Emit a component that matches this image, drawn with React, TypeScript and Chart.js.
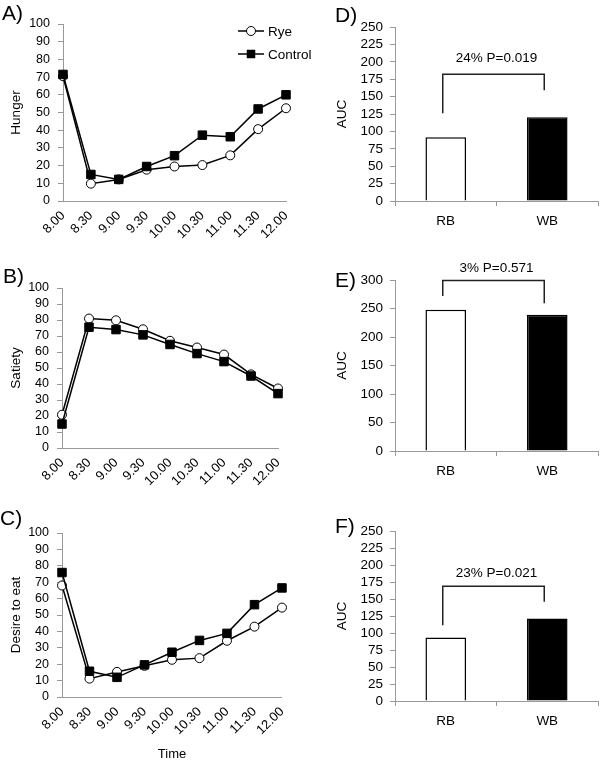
import React, { useEffect, useRef } from 'react';
import { Chart, registerables } from 'chart.js';
Chart.register(...registerables);

const FONT = "'Liberation Sans', Arial, Helvetica, sans-serif";

// ---- data ----
const timeLabels = ['8.00', '8.30', '9.00', '9.30', '10.00', '10.30', '11.00', '11.30', '12.00'];

const hungerRye = [70.5, 9.8, 12.2, 17.7, 19.5, 20.3, 25.8, 40.6, 52.4];
const hungerControl = [71.5, 15, 12.2, 19.5, 25.6, 37.2, 36.3, 52, 60];

const satietyRye = [20.8, 80.9, 79.8, 74.2, 67, 62.8, 58.4, 46, 37.2];
const satietyControl = [15, 75.5, 74, 70.7, 64.7, 59, 54, 45, 34];

const desireRye = [68, 11.2, 15.3, 19, 22.7, 23.7, 34.3, 42.9, 54.5];
const desireControl = [75.9, 15.7, 12, 19.6, 27.3, 34.5, 38.8, 56.3, 66.5];

const groupLabels = ['RB', 'WB'];
const aucHunger = [91.6, 120.2];
const aucSatiety = [248, 239];
const aucDesire = [93.4, 121.3];

// bracket: [left leg end, right leg end, bracket top, text position] in axis units
const bracketHunger = [126, 159, 182, 205];
const bracketSatiety = [272, 259, 299, 321];
const bracketDesire = [111.5, 145.8, 168.8, 188];
const bracketTextHunger = '24% P=0.019';
const bracketTextSatiety = '3% P=0.571';
const bracketTextDesire = '23% P=0.021';

const seriesNames = ['Rye', 'Control'];

// ---- plugins ----
function letterPlugin(text: string, x: number, y: number) {
  return {
    id: 'letter' + text,
    afterDraw(chart: any) {
      const ctx = chart.ctx;
      ctx.save();
      ctx.fillStyle = '#000';
      ctx.font = `21px ${FONT}`;
      ctx.textAlign = 'left';
      ctx.textBaseline = 'alphabetic';
      ctx.fillText(text, x, y);
      ctx.restore();
    },
  };
}

function legendPlugin() {
  return {
    id: 'customLegend',
    afterDraw(chart: any) {
      const ctx = chart.ctx;
      const rows = [
        { name: seriesNames[0], y: 31, ds: 1 },
        { name: seriesNames[1], y: 54, ds: 0 },
      ];
      ctx.save();
      for (const r of rows) {
        const d = chart.data.datasets[r.ds];
        ctx.strokeStyle = '#000';
        ctx.lineWidth = 1.5;
        ctx.beginPath();
        ctx.moveTo(238, r.y);
        ctx.lineTo(264, r.y);
        ctx.stroke();
        ctx.lineWidth = 1;
        ctx.fillStyle = d.pointBackgroundColor;
        ctx.strokeStyle = '#000';
        if (d.pointStyle === 'rect') {
          ctx.fillRect(251 - 4.25, r.y - 4.25, 8.5, 8.5);
        } else {
          ctx.beginPath();
          ctx.arc(251, r.y, 4.5, 0, Math.PI * 2);
          ctx.fill();
          ctx.stroke();
        }
        ctx.fillStyle = '#000';
        ctx.font = `13.5px ${FONT}`;
        ctx.textAlign = 'left';
        ctx.textBaseline = 'middle';
        ctx.fillText(r.name, 268, r.y + 1);
      }
      ctx.restore();
    },
  };
}

function bracketPlugin(b: number[], text: string) {
  return {
    id: 'bracket',
    afterDatasetsDraw(chart: any) {
      const { ctx, scales } = chart;
      const xs = scales.x;
      const ys = scales.y;
      const x0 = xs.getPixelForValue(0) - 3;
      const x1 = xs.getPixelForValue(1) - 3;
      ctx.save();
      ctx.strokeStyle = '#222';
      ctx.lineWidth = 1.5;
      ctx.beginPath();
      ctx.moveTo(x0, ys.getPixelForValue(b[0]));
      ctx.lineTo(x0, ys.getPixelForValue(b[2]));
      ctx.lineTo(x1, ys.getPixelForValue(b[2]));
      ctx.lineTo(x1, ys.getPixelForValue(b[1]));
      ctx.stroke();
      ctx.fillStyle = '#000';
      ctx.font = `13.5px ${FONT}`;
      ctx.textAlign = 'center';
      ctx.textBaseline = 'middle';
      ctx.fillText(text, (x0 + x1) / 2 + 3, ys.getPixelForValue(b[3]));
      ctx.restore();
    },
  };
}

// ---- configs ----
function lineConfig(p: {
  rye: number[];
  control: number[];
  yTitle: string;
  xTitle?: string;
  pad: { left: number; top: number; right: number; bottom: number };
  yWidth: number;
  xHeight: number;
  letter: [string, number, number];
  legend?: boolean;
}) {
  const plugins: any[] = [letterPlugin(p.letter[0], p.letter[1], p.letter[2])];
  if (p.legend) plugins.push(legendPlugin());
  return {
    type: 'line',
    data: {
      labels: timeLabels,
      datasets: [
        {
          label: seriesNames[1],
          data: p.control,
          borderColor: '#000',
          borderWidth: 1.5,
          pointStyle: 'rect',
          pointRadius: 6,
          pointBackgroundColor: '#000',
          pointBorderColor: '#000',
          pointBorderWidth: 1,
          tension: 0,
          clip: false,
        },
        {
          label: seriesNames[0],
          data: p.rye,
          borderColor: '#000',
          borderWidth: 1.5,
          pointStyle: 'circle',
          pointRadius: 4.5,
          pointBackgroundColor: '#fff',
          pointBorderColor: '#000',
          pointBorderWidth: 1,
          tension: 0,
          clip: false,
        },
      ],
    },
    options: {
      responsive: false,
      animation: false,
      events: [],
      layout: { padding: p.pad },
      plugins: { legend: { display: false }, tooltip: { enabled: false } },
      scales: {
        x: {
          offset: false,
          grid: { drawOnChartArea: false, drawTicks: false, color: '#999' },
          border: { color: '#999', width: 1 },
          ticks: {
            minRotation: 45,
            maxRotation: 45,
            autoSkip: false,
            padding: 7,
            color: '#000',
            font: { family: FONT, size: 13 },
          },
          title: p.xTitle
            ? { display: true, text: p.xTitle, color: '#000', font: { family: FONT, size: 13 }, padding: 0 }
            : { display: false },
          afterFit: (s: any) => {
            s.height = p.xHeight;
          },
        },
        y: {
          min: 0,
          max: 100,
          grid: { drawOnChartArea: false, tickLength: 5, color: '#999' },
          border: { color: '#999', width: 1 },
          ticks: { stepSize: 10, autoSkip: false, padding: 8, color: '#000', font: { family: FONT, size: 12.5 } },
          title: { display: true, text: p.yTitle, color: '#000', font: { family: FONT, size: 13.5 }, padding: 0 },
          afterFit: (s: any) => {
            s.width = p.yWidth;
          },
        },
      },
    },
    plugins,
  };
}

function barConfig(p: {
  values: number[];
  max: number;
  step: number;
  bracket: number[];
  text: string;
  pad: { left: number; top: number; right: number; bottom: number };
  yWidth: number;
  xHeight: number;
  letter: [string, number, number];
}) {
  return {
    type: 'bar',
    data: {
      labels: groupLabels,
      datasets: [
        {
          data: p.values,
          backgroundColor: ['#fff', '#000'],
          borderColor: '#000',
          borderWidth: 1.5,
          barPercentage: 0.4,
          categoryPercentage: 1,
        },
      ],
    },
    options: {
      responsive: false,
      animation: false,
      events: [],
      layout: { padding: p.pad },
      plugins: { legend: { display: false }, tooltip: { enabled: false } },
      scales: {
        x: {
          grid: { drawOnChartArea: false, tickLength: 5, color: '#999', offset: true },
          border: { color: '#999', width: 1 },
          ticks: { padding: 7, color: '#000', font: { family: FONT, size: 13.5 } },
          afterFit: (s: any) => {
            s.height = p.xHeight;
          },
        },
        y: {
          min: 0,
          max: p.max,
          grid: { drawOnChartArea: false, tickLength: 5, color: '#999' },
          border: { color: '#999', width: 1 },
          ticks: { stepSize: p.step, autoSkip: false, padding: 7, color: '#000', font: { family: FONT, size: 13.5 } },
          title: { display: true, text: 'AUC', color: '#000', font: { family: FONT, size: 13.5 }, padding: 0 },
          afterFit: (s: any) => {
            s.width = p.yWidth;
          },
        },
      },
    },
    plugins: [letterPlugin(p.letter[0], p.letter[1], p.letter[2]), bracketPlugin(p.bracket, p.text)],
  };
}

function Panel({ x, y, w, h, make }: { x: number; y: number; w: number; h: number; make: () => any }) {
  const ref = useRef<HTMLCanvasElement>(null);
  useEffect(() => {
    const chart = new Chart(ref.current as HTMLCanvasElement, make());
    return () => chart.destroy();
  }, []);
  return (
    <div style={{ position: 'absolute', left: x, top: y, width: w, height: h }}>
      <canvas ref={ref} width={w} height={h} style={{ display: 'block' }} />
    </div>
  );
}

export default function App() {
  return (
    <div style={{ position: 'absolute', left: 0, top: 0, width: 600, height: 762, background: '#fff' }}>
      <Panel
        x={300}
        y={0}
        w={300}
        h={250}
        make={() =>
          barConfig({
            values: aucHunger,
            max: 250,
            step: 25,
            bracket: bracketHunger,
            text: bracketTextHunger,
            pad: { left: 34, top: 27, right: 2, bottom: 0 },
            yWidth: 61,
            xHeight: 49,
            letter: ['D)', 35, 22],
          })
        }
      />
      <Panel
        x={0}
        y={0}
        w={330}
        h={250}
        make={() =>
          lineConfig({
            rye: hungerRye,
            control: hungerControl,
            yTitle: 'Hunger',
            pad: { left: 8, top: 24, right: 44, bottom: 0 },
            yWidth: 55,
            xHeight: 49,
            letter: ['A)', 2, 20],
            legend: true,
          })
        }
      />
      <Panel
        x={0}
        y={250}
        w={300}
        h={250}
        make={() =>
          lineConfig({
            rye: satietyRye,
            control: satietyControl,
            yTitle: 'Satiety',
            pad: { left: 8, top: 38, right: 22, bottom: 0 },
            yWidth: 54,
            xHeight: 52,
            letter: ['B)', 3, 33],
          })
        }
      />
      <Panel
        x={0}
        y={500}
        w={300}
        h={262}
        make={() =>
          lineConfig({
            rye: desireRye,
            control: desireControl,
            yTitle: 'Desire to eat',
            xTitle: 'Time',
            pad: { left: 8, top: 33, right: 18, bottom: 0 },
            yWidth: 54,
            xHeight: 65,
            letter: ['C)', 0, 25],
          })
        }
      />
      <Panel
        x={300}
        y={250}
        w={300}
        h={250}
        make={() =>
          barConfig({
            values: aucSatiety,
            max: 300,
            step: 50,
            bracket: bracketSatiety,
            text: bracketTextSatiety,
            pad: { left: 34, top: 30, right: 2, bottom: 0 },
            yWidth: 61,
            xHeight: 49,
            letter: ['E)', 35, 37],
          })
        }
      />
      <Panel
        x={300}
        y={500}
        w={300}
        h={262}
        make={() =>
          barConfig({
            values: aucDesire,
            max: 250,
            step: 25,
            bracket: bracketDesire,
            text: bracketTextDesire,
            pad: { left: 34, top: 31, right: 2, bottom: 0 },
            yWidth: 61,
            xHeight: 61,
            letter: ['F)', 35, 33],
          })
        }
      />
    </div>
  );
}
